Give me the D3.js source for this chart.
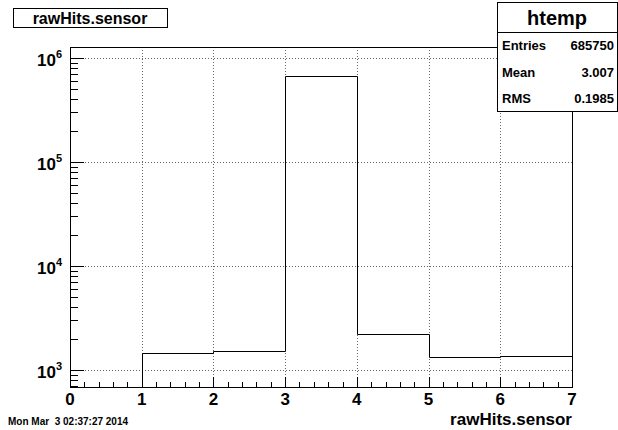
<!DOCTYPE html>
<html>
<head>
<meta charset="utf-8">
<script src="https://cdn.jsdelivr.net/npm/d3@7"></script>
<style>
  html, body { margin: 0; padding: 0; background: #fff; }
  svg { display: block; }
  text { font-family: "Liberation Sans", Arial, Helvetica, sans-serif; font-weight: bold; fill: #000; }
</style>
</head>
<body>
<svg id="chart" width="618" height="430"></svg>
<script>
// ---- data ----
const binEdges = [0, 1, 2, 3, 4, 5, 6, 7];
const binCounts = [0, 1457, 1524, 677875, 2204, 1325, 1365];
const xTickLabels = ["0", "1", "2", "3", "4", "5", "6", "7"];
const yDecades = [3, 4, 5, 6];
const histTitle = "rawHits.sensor";
const statsTitle = "htemp";
const statsLabels = ["Entries", "Mean", "RMS"];
const statsValues = ["685750", "3.007", "0.1985"];
const xAxisTitle = "rawHits.sensor";
const dateText = "Mon Mar  3 02:37:27 2014";

// ---- layout ----
const frame = { left: 70, right: 572, top: 47, bottom: 387 };
const svg = d3.select("#chart");

const x = d3.scaleLinear().domain([0, 7]).range([frame.left, frame.right]);
const y = d3.scaleLog().domain([687, 1.275e6]).range([frame.bottom, frame.top]);

// grid
const gridColor = "#666";
const grid = svg.append("g");
xTickLabels.forEach((_, i) => {
  if (i === 0 || i === 7) return;
  grid.append("line")
    .attr("x1", Math.round(x(i)) + 0.5).attr("x2", Math.round(x(i)) + 0.5)
    .attr("y1", frame.top).attr("y2", frame.bottom)
    .attr("stroke", gridColor).attr("stroke-width", 1)
    .attr("stroke-dasharray", "1,2");
});
yDecades.forEach(d => {
  const yy = Math.round(y(Math.pow(10, d))) + 0.5;
  grid.append("line")
    .attr("x1", frame.left).attr("x2", frame.right)
    .attr("y1", yy).attr("y2", yy)
    .attr("stroke", gridColor).attr("stroke-width", 1)
    .attr("stroke-dasharray", "1,2");
});

// histogram step line
let pts = [];
const yBottom = frame.bottom;
let started = false;
binCounts.forEach((c, i) => {
  if (c <= 0) return;
  const yv = y(c);
  if (!started) { pts.push([x(binEdges[i]), yBottom]); started = true; }
  pts.push([x(binEdges[i]), yv]);
  pts.push([x(binEdges[i + 1]), yv]);
});
pts.push([x(binEdges[binEdges.length - 1]), yBottom]);
svg.append("path")
  .attr("d", d3.line()(pts.map(p => [Math.round(p[0]) + 0.5, Math.round(p[1]) + 0.5])))
  .attr("fill", "none").attr("stroke", "#000").attr("stroke-width", 1);

// frame
svg.append("rect")
  .attr("x", frame.left + 0.5).attr("y", frame.top + 0.5)
  .attr("width", frame.right - frame.left).attr("height", frame.bottom - frame.top)
  .attr("fill", "none").attr("stroke", "#000").attr("stroke-width", 1);

// x axis ticks
const ax = svg.append("g");
for (let i = 0; i <= 35; i++) {
  const v = i / 5;
  const major = i % 5 === 0;
  const xx = Math.round(x(v)) + 0.5;
  ax.append("line")
    .attr("x1", xx).attr("x2", xx)
    .attr("y1", frame.bottom).attr("y2", frame.bottom - (major ? 10 : 5))
    .attr("stroke", "#000");
}
xTickLabels.forEach((t, i) => {
  ax.append("text").attr("x", x(i)).attr("y", 405)
    .attr("text-anchor", "middle").attr("font-size", 17).text(t);
});

// y axis ticks (log)
const ay = svg.append("g");
const [ymin, ymax] = y.domain();
for (let d = 2; d <= 6; d++) {
  for (let m = 1; m <= 9; m++) {
    const v = m * Math.pow(10, d);
    if (v < ymin || v > ymax) continue;
    const yy = Math.round(y(v)) + 0.5;
    ay.append("line")
      .attr("x1", frame.left).attr("x2", frame.left + (m === 1 ? 14 : 8))
      .attr("y1", yy).attr("y2", yy).attr("stroke", "#000");
  }
}
yDecades.forEach(d => {
  const t = ay.append("text").attr("x", 62).attr("y", y(Math.pow(10, d)) + 8)
    .attr("text-anchor", "end").attr("font-size", 17);
  t.append("tspan").text("10");
  t.append("tspan").attr("dy", -8).attr("font-size", 11).text(String(d));
});

// title box
svg.append("rect").attr("x", 13.5).attr("y", 8.5).attr("width", 154).attr("height", 19)
  .attr("fill", "#fff").attr("stroke", "#000");
svg.append("text").attr("x", 90).attr("y", 24).attr("text-anchor", "middle")
  .attr("font-size", 16).text(histTitle);

// stats box
const sb = { x: 497, y: 2, w: 120, h: 109 };
svg.append("rect").attr("x", sb.x + 0.5).attr("y", sb.y + 0.5).attr("width", sb.w).attr("height", sb.h)
  .attr("fill", "#fff").attr("stroke", "#000");
svg.append("line").attr("x1", sb.x).attr("x2", sb.x + sb.w).attr("y1", 32.5).attr("y2", 32.5).attr("stroke", "#000");
svg.append("text").attr("x", sb.x + sb.w / 2).attr("y", 25).attr("text-anchor", "middle")
  .attr("font-size", 20).text(statsTitle);
const rowY = [50, 77, 103];
statsLabels.forEach((l, i) => {
  svg.append("text").attr("x", 502).attr("y", rowY[i]).attr("font-size", 13).text(l);
  svg.append("text").attr("x", 614).attr("y", rowY[i]).attr("text-anchor", "end")
    .attr("font-size", 13).text(statsValues[i]);
});

// axis title
svg.append("text").attr("x", frame.right).attr("y", 425).attr("text-anchor", "end")
  .attr("font-size", 17).text(xAxisTitle);

// date
svg.append("text").attr("x", 8).attr("y", 425).attr("font-size", 10)
  .attr("xml:space", "preserve").style("white-space", "pre").text(dateText);
</script>
</body>
</html>
